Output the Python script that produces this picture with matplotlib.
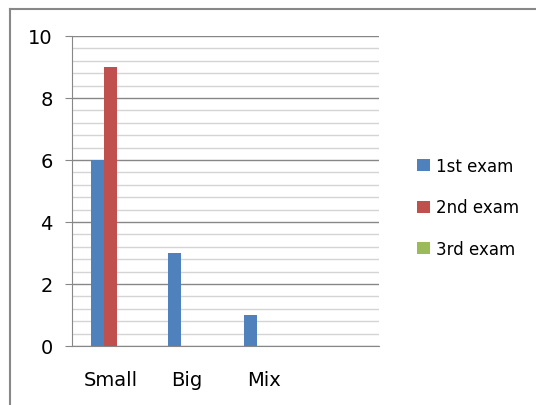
import matplotlib
matplotlib.use("Agg")
import matplotlib.pyplot as plt
import numpy as np
from matplotlib.lines import Line2D
from matplotlib.ticker import MultipleLocator

categories = ["Small", "Big", "Mix", ""]
series_names = ["1st exam", "2nd exam", "3rd exam"]
exam1 = [6, 3, 1, 0]
exam2 = [9, 0, 0, 0]
exam3 = [0, 0, 0, 0]
colors = ["#4F81BD", "#C0504D", "#9BBB59"]
y_ticks = [0, 2, 4, 6, 8, 10]

W, H = 536, 406
fig = plt.figure(figsize=(W / 100, H / 100), dpi=100)
ax = fig.add_axes([72 / W, 1 - 347 / H, (379 - 72) / W, (347 - 37) / H])

x = np.arange(len(categories))
w = 0.169
handles = []
for i, (vals, name, col) in enumerate(zip([exam1, exam2, exam3], series_names, colors)):
    b = ax.bar(x + (i - 1) * w, vals, width=w, color=col, label=name, zorder=3)
    handles.append(b)

ax.set_xlim(-0.5, len(categories) - 0.5)
ax.set_ylim(0, 10)
ax.set_yticks(y_ticks)
ax.set_yticklabels([str(t) for t in y_ticks])
ax.yaxis.set_minor_locator(MultipleLocator(0.4))
ax.set_xticks(x)
ax.set_xticklabels(categories)

ax.grid(axis="y", which="major", color="#878787", linewidth=1.0, zorder=0)
ax.grid(axis="y", which="minor", color="#d4d4d4", linewidth=1.0, zorder=0)
ax.set_axisbelow(True)

for s in ["top", "right"]:
    ax.spines[s].set_visible(False)
ax.spines["left"].set_color("#878787")
ax.spines["bottom"].set_color("#878787")

ax.tick_params(axis="y", which="major", length=5, color="#878787", labelsize=14, pad=9)
ax.tick_params(axis="y", which="minor", length=0)
ax.tick_params(axis="x", length=0, labelsize=14, pad=17)

leg = fig.legend(handles=handles, labels=series_names, loc="center left",
                 bbox_to_anchor=(409 / W, 1 - 208.5 / H), frameon=False,
                 fontsize=12, handlelength=0.75, handleheight=0.75,
                 handletextpad=0.35, labelspacing=1.4, borderpad=0)

# outer chart frame (left and top edges visible)
fx = 10 / W
fy = 1 - 10 / H
fig.add_artist(Line2D([fx, fx], [0, fy], transform=fig.transFigure,
                      color="#888888", linewidth=1.5))
fig.add_artist(Line2D([fx, 1], [fy, fy], transform=fig.transFigure,
                      color="#888888", linewidth=1.5))

fig.savefig("out.png", dpi=100)
